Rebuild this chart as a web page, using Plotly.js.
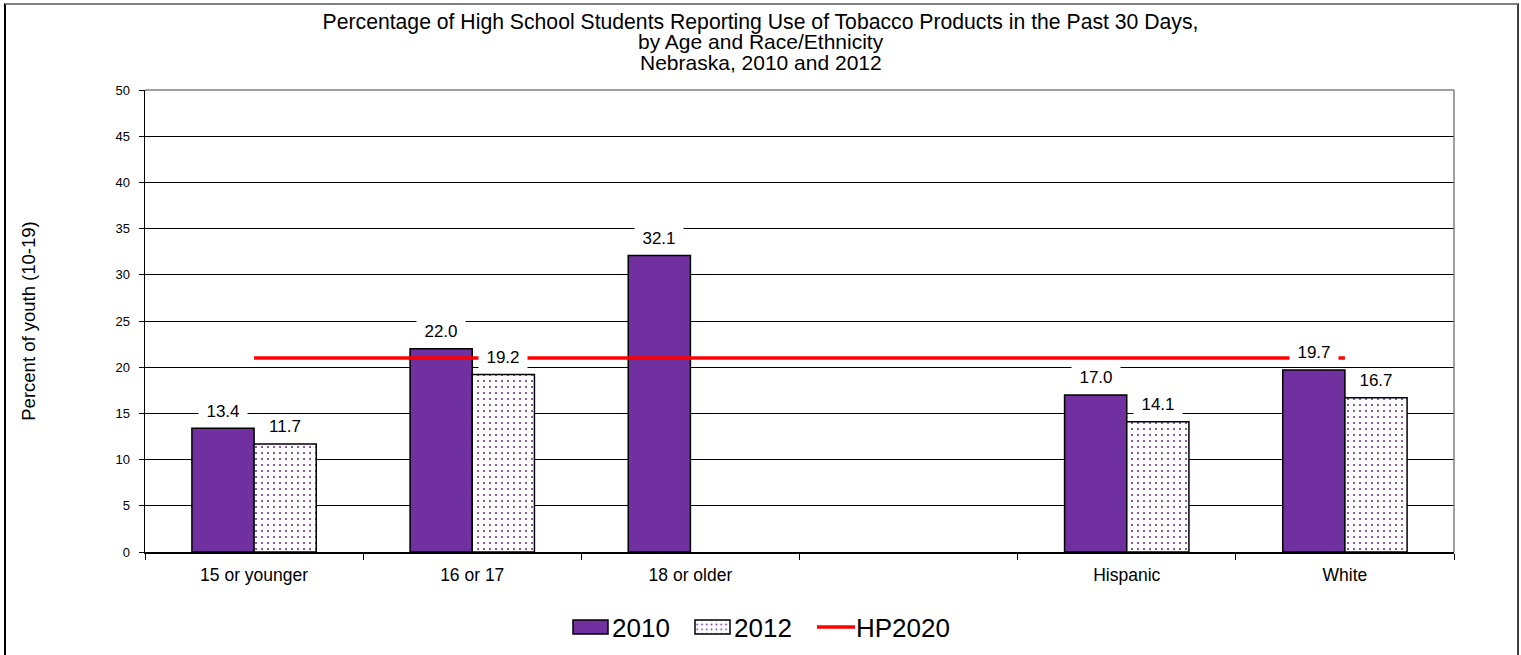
<!DOCTYPE html>
<html>
<head>
<meta charset="utf-8">
<script src="https://cdn.plot.ly/plotly-3.0.1.min.js"></script>
<style>
  html, body { margin: 0; padding: 0; background: #fff; }
  #wrap { position: relative; width: 1521px; height: 655px; }
  #chart { width: 1521px; height: 655px; }
  #frame { position: absolute; left: 4px; top: 3px; width: 1511px; height: 660px;
           border-left: 2px solid #000; border-top: 2px solid #808080; border-right: 2px solid #404040;
           pointer-events: none; }
</style>
</head>
<body>
<div id="wrap">
  <div id="chart"></div>
  <div id="frame"></div>
</div>
<script>
// ---- data ----
const categories = ["15 or younger", "16 or 17", "18 or older", " ", "Hispanic", "White"];
const values2010 = [13.4, 22.0, 32.1, null, 17.0, 19.7];
const values2012 = [11.7, 19.2, null, null, 14.1, 16.7];
const hp2020 = [21.0, 21.0, 21.0, 21.0, 21.0, 21.0];
const yTicks = [0, 5, 10, 15, 20, 25, 30, 35, 40, 45, 50];
const titleLines = [
  "Percentage of High School Students Reporting Use of Tobacco Products in the Past 30 Days,",
  "by Age and Race/Ethnicity",
  "Nebraska, 2010 and 2012"
];
const yTitle = "Percent of youth (10-19)";

// ---- style ----
const FONT = "Liberation Sans, Arial, sans-serif";
const PURPLE = "#7030A0";
const BARGAP = 0.43;
const barOffset = (1 - BARGAP) / 4;   // center offset of each bar within a group
const W = 1521, H = 655;
const M = { l: 145, r: 67, t: 90, b: 103 };
const pageCenterPaperX = (W / 2 - M.l) / (W - M.l - M.r);

const traces = [
  {
    type: "bar", name: "2010", x: categories, y: values2010,
    marker: { color: PURPLE, line: { color: "#000", width: 1.5 } },
    hoverinfo: "x+y"
  },
  {
    type: "bar", name: "2012", x: categories, y: values2012,
    marker: { color: "#fff", line: { color: "#000", width: 1.5 },
              pattern: { shape: ".", fgcolor: PURPLE, bgcolor: "#fff", size: 6, solidity: 0.1 } },
    hoverinfo: "x+y"
  },
  {
    type: "scatter", mode: "lines", name: "HP2020", x: categories, y: hp2020,
    line: { color: "#FF0000", width: 3.5 },
    legendwidth: 102,
    hoverinfo: "y"
  }
];

const annotations = [];
function addLabels(vals, sign) {
  vals.forEach((v, i) => {
    if (v === null) return;
    annotations.push({
      x: i + sign * barOffset, y: v, xref: "x", yref: "y",
      text: v.toFixed(1), showarrow: false,
      yanchor: "middle", yshift: 17,
      bgcolor: "#fff", borderpad: 2, width: 44,
      font: { family: FONT, size: 17, color: "#000" }
    });
  });
}
addLabels(values2010, -1);
addLabels(values2012, 1);

// title sub-lines (centered on the page like the main title)
annotations.push({
  xref: "paper", yref: "paper", x: pageCenterPaperX, y: 1, yanchor: "middle", yshift: 48.5,
  text: titleLines[1], showarrow: false, font: { family: FONT, size: 21, color: "#000" }
});
annotations.push({
  xref: "paper", yref: "paper", x: pageCenterPaperX, y: 1, yanchor: "middle", yshift: 28,
  text: titleLines[2], showarrow: false, font: { family: FONT, size: 21, color: "#000" }
});

const layout = {
  width: W, height: H,
  margin: M,
  paper_bgcolor: "#fff", plot_bgcolor: "#fff",
  font: { family: FONT, color: "#000" },
  title: {
    text: titleLines[0], font: { family: FONT, size: 21.2, color: "#000" },
    x: 0.5, xref: "container", xanchor: "center", y: 1 - 21.5 / H, yref: "container", yanchor: "middle"
  },
  barmode: "group", bargap: BARGAP, bargroupgap: 0,
  showlegend: true,
  legend: {
    orientation: "h", xref: "container", yref: "container", x: (W / 2 + 7) / W, xanchor: "center",
    y: 1 - 627 / H, yanchor: "middle",
    font: { family: FONT, size: 26, color: "#000" },
    entrywidth: 77, entrywidthmode: "pixels",
    traceorder: "normal", itemclick: false, itemdoubleclick: false
  },
  xaxis: {
    type: "category", categoryorder: "array", categoryarray: categories,
    showline: true, linecolor: "#000", linewidth: 1.5,
    ticks: "outside", tickson: "boundaries", ticklen: 6, tickcolor: "#000", tickwidth: 1,
    showgrid: false, zeroline: false,
    tickfont: { family: FONT, size: 17.5, color: "#000" },
    ticklabelstandoff: 6,
    fixedrange: true
  },
  yaxis: {
    range: [0, 50], tickvals: yTicks, ticktext: yTicks.map(String),
    showline: true, linecolor: "#000", linewidth: 1.5,
    ticks: "outside", ticklen: 5, tickcolor: "#000", tickwidth: 1,
    showgrid: true, gridcolor: "#000", gridwidth: 1, zeroline: false,
    tickfont: { family: FONT, size: 13, color: "#000" },
    ticklabelstandoff: 6,
    title: { text: yTitle, font: { family: FONT, size: 18.5, color: "#000" }, standoff: 75 },
    fixedrange: true
  },
  shapes: [
    { type: "line", xref: "paper", yref: "paper", x0: 0, x1: 1, y0: 1, y1: 1, line: { color: "#808080", width: 1.5 } },
    { type: "line", xref: "paper", yref: "paper", x0: 1, x1: 1, y0: 0, y1: 1, line: { color: "#808080", width: 1.5 } }
  ],
  annotations: annotations
};

Plotly.newPlot("chart", traces, layout, { displayModeBar: false, staticPlot: true }).then(gd => {
  // widen the legend swatches to Excel-like rectangles
  gd.querySelectorAll(".legend .traces").forEach(tr => {
    tr.querySelectorAll(".legendpoints path").forEach(p => {
      if (p.getAttribute("d") && p.getAttribute("d").indexOf("H") >= 0) {
        p.setAttribute("d", "M16,7H-19V-7H16Z");
        p.style.strokeWidth = "1.5px";
      }
    });
    tr.querySelectorAll(".legendlines path").forEach(p => {
      p.setAttribute("d", "M1,0h38");
    });
  });
});
</script>
</body>
</html>
